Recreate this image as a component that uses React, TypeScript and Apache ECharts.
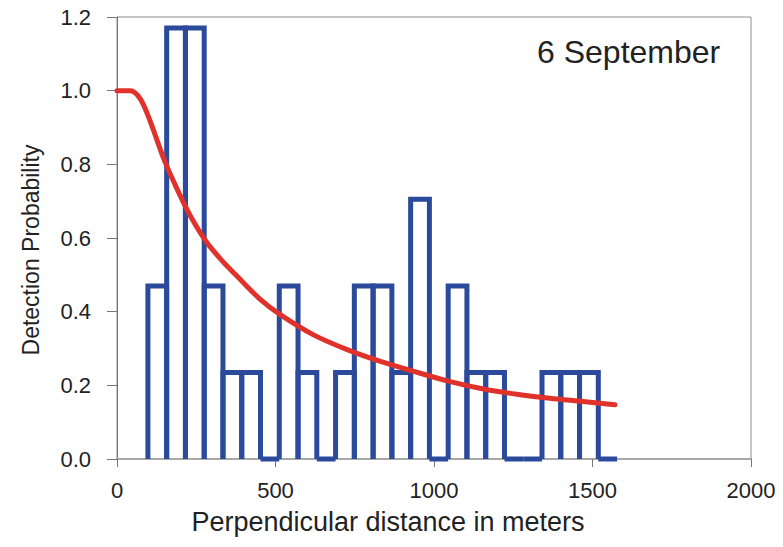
import React, { useEffect, useRef } from "react";
import * as echarts from "echarts";

// Histogram: bin layout and bar heights (relative frequency scaled)
const firstBinStart = 97.5;
const binWidth = 59.2;
const barValues = [
  0.47, 1.17, 1.17, 0.47, 0.235, 0.235, 0, 0.47, 0.235, 0, 0.235, 0.47, 0.47,
  0.235, 0.705, 0, 0.47, 0.235, 0.235, 0, 0, 0.235, 0.235, 0.235, 0,
];

// Fitted detection function
const curveX = [0, 42, 74, 106, 148, 190, 232, 284, 337, 379, 450, 515, 620, 726, 831, 936, 1051, 1156, 1261, 1366, 1471, 1571];
const curveY = [1.0, 1.0, 0.977, 0.914, 0.814, 0.732, 0.659, 0.587, 0.533, 0.496, 0.435, 0.392, 0.337, 0.297, 0.265, 0.238, 0.21, 0.19, 0.176, 0.165, 0.156, 0.147];

const titleText = "6 September";
const xName = "Perpendicular distance in meters";
const yName = "Detection Probability";

const BLUE = "#2b4a9c";
const RED = "#e0322b";
const FONT = "'Liberation Sans', Arial, sans-serif";

export default function App() {
  const ref = useRef<HTMLDivElement>(null);
  useEffect(() => {
    if (!ref.current) return;
    const chart = echarts.init(ref.current, null, { renderer: "svg" });
    const bars = barValues.map((v, i) => [
      firstBinStart + i * binWidth,
      firstBinStart + (i + 1) * binWidth,
      v,
    ]);
    const curve = curveX.map((x, i) => [x, curveY[i]]);
    chart.setOption({
      animation: false,
      backgroundColor: "#ffffff",
      textStyle: { fontFamily: FONT },
      grid: {
        left: 117,
        right: 32,
        top: 17,
        bottom: 88,
        show: true,
        borderColor: "#8c8c8c",
        borderWidth: 1,
        backgroundColor: "transparent",
      },
      xAxis: {
        type: "value",
        min: 0,
        max: 2000,
        interval: 500,
        axisLine: { show: true, lineStyle: { color: "#a8a8a8", width: 2 } },
        axisTick: { show: true, length: 8, lineStyle: { color: "#777" } },
        splitLine: { show: false },
        axisLabel: {
          color: "#222",
          fontSize: 22,
          margin: 20,
          fontFamily: FONT,
          formatter: (v: number) => String(v),
        },
      },
      yAxis: {
        type: "value",
        min: 0,
        max: 1.2,
        interval: 0.2,
        axisLine: { show: true, lineStyle: { color: "#777", width: 1 } },
        axisTick: { show: true, length: 10, lineStyle: { color: "#777" } },
        splitLine: { show: false },
        axisLabel: {
          color: "#222",
          fontSize: 22,
          margin: 26,
          fontFamily: FONT,
          formatter: (v: number) => v.toFixed(1),
        },
      },
      series: [
        {
          type: "custom",
          data: bars,
          encode: { x: [0, 1], y: 2 },
          clip: false,
          z: 2,
          renderItem: (params: any, api: any) => {
            const l = api.value(0);
            const r = api.value(1);
            const v = api.value(2);
            const pts = [
              api.coord([l, 0]),
              api.coord([l, v]),
              api.coord([r, v]),
              api.coord([r, 0]),
            ];
            return {
              type: "polyline",
              shape: { points: pts },
              style: { stroke: BLUE, lineWidth: 5, fill: "none", lineJoin: "miter" },
            };
          },
        },
        {
          type: "line",
          data: curve,
          smooth: 0.3,
          showSymbol: false,
          symbol: "none",
          z: 3,
          lineStyle: { color: RED, width: 5, cap: "round", join: "round" },
        },
      ],
      graphic: [
        {
          type: "text",
          left: 537,
          top: 36,
          style: { text: titleText, fontSize: 32, fill: "#222", fontFamily: FONT },
        },
        {
          type: "text",
          x: 388,
          y: 522,
          style: {
            text: xName,
            fontSize: 27,
            fill: "#222",
            fontFamily: FONT,
            align: "center",
            verticalAlign: "middle",
          },
        },
        {
          type: "text",
          x: 31,
          y: 250,
          rotation: Math.PI / 2,
          style: {
            text: yName,
            fontSize: 23,
            fill: "#222",
            fontFamily: FONT,
            align: "center",
            verticalAlign: "middle",
          },
        },
      ],
    });
    return () => chart.dispose();
  }, []);
  return (
    <div
      ref={ref}
      style={{ position: "fixed", left: 0, top: 0, width: 783, height: 547 }}
    />
  );
}
